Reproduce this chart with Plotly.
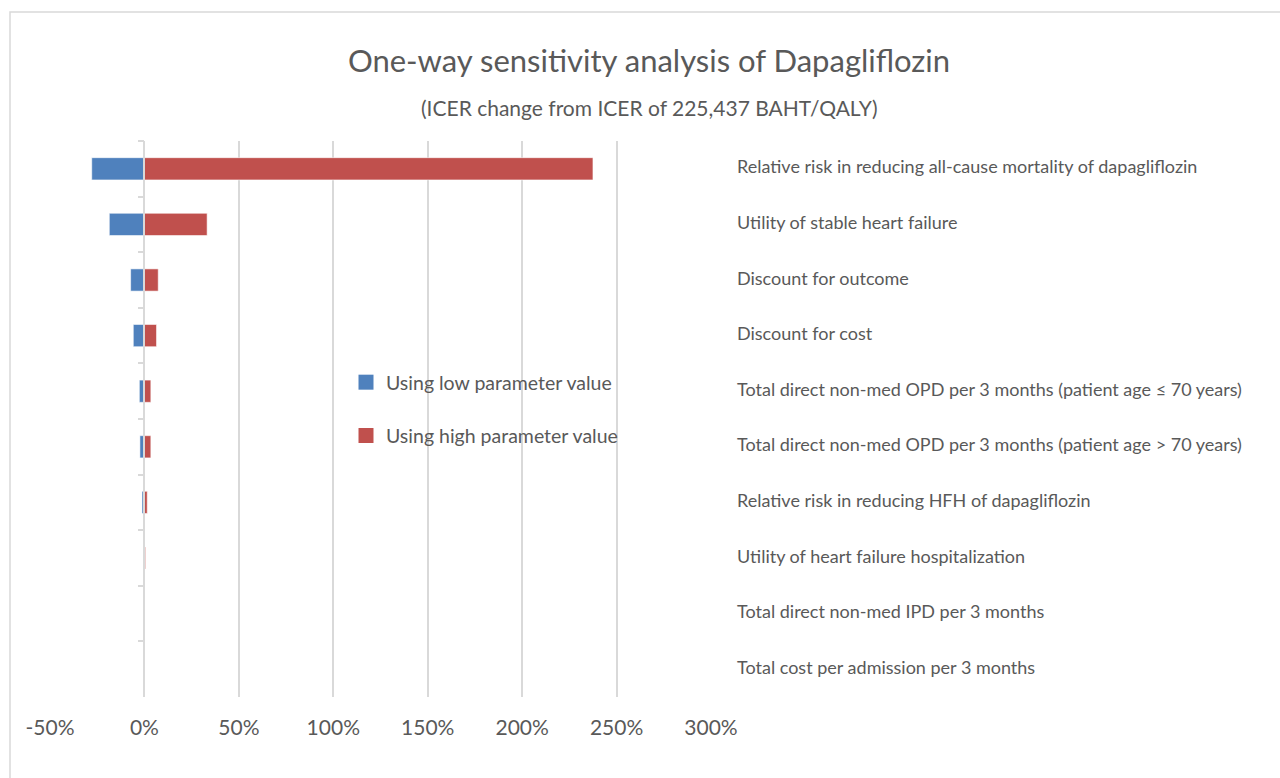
import plotly.graph_objects as go

# Parameters of the one-way sensitivity analysis (top to bottom)
parameters = [
    "Relative risk in reducing all-cause mortality of dapagliflozin",
    "Utility of stable heart failure",
    "Discount for outcome",
    "Discount for cost",
    "Total direct non-med OPD per 3 months (patient age ≤ 70 years)",
    "Total direct non-med OPD per 3 months (patient age > 70 years)",
    "Relative risk in reducing HFH of dapagliflozin",
    "Utility of heart failure hospitalization",
    "Total direct non-med IPD per 3 months",
    "Total cost per admission per 3 months",
]

# ICER change (fraction of base-case ICER)
low_values = [-0.279, -0.186, -0.073, -0.059, -0.027, -0.024, -0.013, -0.001, -0.003, -0.003]
high_values = [2.375, 0.332, 0.073, 0.064, 0.034, 0.034, 0.015, 0.006, 0.0005, 0.0005]

x_ticks = [-0.5, 0, 0.5, 1.0, 1.5, 2.0, 2.5, 3.0]
x_tick_labels = ["-50%", "0%", "50%", "100%", "150%", "200%", "250%", "300%"]

BLUE = "#4f81bd"
RED = "#c0504d"
TEXT = "#595959"
GRID = "#d9d9d9"
FONT = "Lato, sans-serif"

W, H = 1280, 778
L, R, T, B = 50, 1280 - 711, 141, 778 - 697
plot_w, plot_h = W - L - R, H - T - B


def px_x(px):
    return (px - L) / plot_w


def px_y(py):
    return (H - B - py) / plot_h


fig = go.Figure()
fig.add_trace(go.Bar(
    y=parameters, x=low_values, base=0, orientation="h", width=0.4,
    name="Using low parameter value", showlegend=False,
    marker=dict(color=BLUE, line=dict(color="rgba(255,255,255,0.7)", width=0.8)),
))
fig.add_trace(go.Bar(
    y=parameters, x=high_values, base=0, orientation="h", width=0.4,
    name="Using high parameter value", showlegend=False,
    marker=dict(color=RED, line=dict(color="rgba(255,255,255,0.7)", width=0.8)),
))

# Legend entries with larger square keys
for name, color, grp in [("Using low parameter value", BLUE, "low"),
                         ("Using high parameter value", RED, "high")]:
    fig.add_trace(go.Scatter(
        x=[None], y=[None], mode="markers", name=name, legendgroup=grp,
        marker=dict(symbol="square", size=15, color=color),
    ))

# Parameter names to the right of the plot area
for p in parameters:
    fig.add_annotation(
        x=px_x(735), xref="paper", y=p, yref="y", yshift=2.5, text=p, showarrow=False,
        xanchor="left", yanchor="middle", font=dict(family=FONT, size=18, color=TEXT),
    )

fig.update_layout(
    width=W, height=H,
    margin=dict(l=L, r=R, t=T, b=B),
    paper_bgcolor="white", plot_bgcolor="white",
    barmode="overlay",
    font=dict(family=FONT, color=TEXT),
    title=dict(
        text="One-way sensitivity analysis of Dapagliflozin",
        x=px_x(649), xref="paper", xanchor="center",
        y=1 - 61 / H, yref="container", yanchor="middle",
        font=dict(family=FONT, size=31, color=TEXT),
    ),
    xaxis=dict(
        range=[-0.5, 3.0], tickvals=x_ticks, ticktext=x_tick_labels,
        showgrid=True, gridcolor=GRID, gridwidth=1.5,
        zeroline=False, showline=False, ticks="",
        ticklabelstandoff=16,
        tickfont=dict(family=FONT, size=21, color=TEXT),
        fixedrange=True,
    ),
    yaxis=dict(
        categoryorder="array", categoryarray=parameters, autorange="reversed",
        anchor="free", position=0.5 / 3.5,
        showline=True, linecolor=GRID, linewidth=1.5,
        ticks="outside", tickson="boundaries", ticklen=6, tickcolor=GRID, tickwidth=1.5,
        showticklabels=False, showgrid=False, zeroline=False,
    ),
    legend=dict(
        x=px_x(346), y=px_y(363), xanchor="left", yanchor="top",
        bgcolor="rgba(0,0,0,0)", traceorder="grouped", tracegroupgap=25,
        itemwidth=30,
        font=dict(family=FONT, size=19.5, color=TEXT),
    ),
    showlegend=True,
)

fig.add_annotation(
    text="(ICER change from ICER of 225,437 BAHT/QALY)",
    x=px_x(649), xref="paper", y=px_y(108), yref="paper",
    showarrow=False, xanchor="center", yanchor="middle",
    font=dict(family=FONT, size=21, color=TEXT),
)

# Chart frame
fig.add_shape(
    type="rect", xref="paper", yref="paper",
    x0=px_x(10), x1=px_x(1300), y0=px_y(800), y1=px_y(12),
    line=dict(color=GRID, width=1.5), fillcolor="rgba(0,0,0,0)", layer="below",
)

fig.write_html("out.html")
